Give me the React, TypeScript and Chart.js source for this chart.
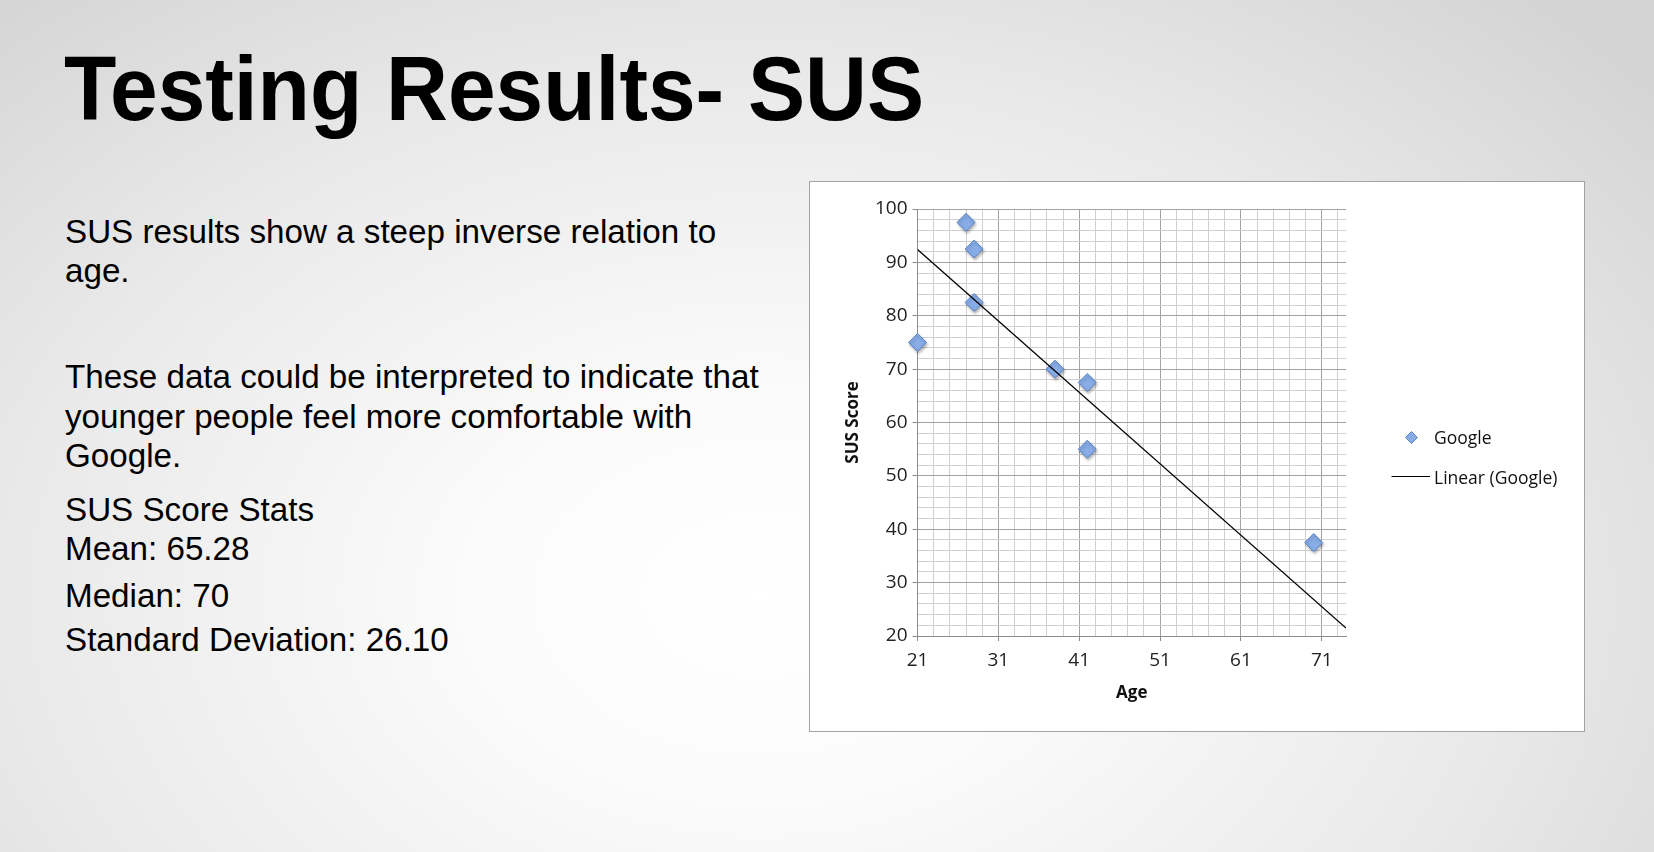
import React, { useEffect, useRef } from "react";
import { Chart, registerables } from "chart.js";

Chart.register(...registerables);

// ---- data ----
const ages = [21, 27, 28, 28, 38, 42, 42, 70];
const susScores = [75, 97.5, 92.5, 82.5, 70, 67.5, 55, 37.5];
const trendAges = [21, 74];
const trendScores = [92.4, 21.5];
const xTickLabels = [21, 31, 41, 51, 61, 71];
const yTickLabels = [20, 30, 40, 50, 60, 70, 80, 90, 100];
const xMax = 74;
const minorStep = 2;
const seriesName = "Google";
const trendName = "Linear (Google)";
const xTitle = "Age";
const yTitle = "SUS Score";

const titleText = "Testing Results- SUS";
const bodyLines = [
  { text: "SUS results show a steep inverse relation to", baseline: 243 },
  { text: "age.", baseline: 282 },
  { text: "These data could be interpreted to indicate that", baseline: 388 },
  { text: "younger people feel more comfortable with", baseline: 428 },
  { text: "Google.", baseline: 467 },
  { text: "SUS Score Stats", baseline: 521 },
  { text: "Mean: 65.28", baseline: 560 },
  { text: "Median: 70", baseline: 607 },
  { text: "Standard Deviation: 26.10", baseline: 651 },
];

const POINT_FILL = "#87ace6";
const POINT_BORDER = "#5a85c8";
const TICK_FONT = { family: "'Open Sans'", size: 19 };
const MAJOR_GRID = "#a2a2a2";
const MINOR_GRID = "#d0d0d0";

const legendPlugin = {
  id: "customLegend",
  afterDraw(chart: any) {
    const ctx = chart.ctx as CanvasRenderingContext2D;
    const ds = chart.data.datasets;
    ctx.save();
    const dx = 601.5, dy = 255.5, r = 6;
    ctx.beginPath();
    ctx.moveTo(dx, dy - r);
    ctx.lineTo(dx + r, dy);
    ctx.lineTo(dx, dy + r);
    ctx.lineTo(dx - r, dy);
    ctx.closePath();
    ctx.fillStyle = POINT_FILL;
    ctx.fill();
    ctx.lineWidth = 1;
    ctx.strokeStyle = POINT_BORDER;
    ctx.stroke();
    ctx.font = "17.5px 'Open Sans'";
    ctx.fillStyle = "#111";
    ctx.textBaseline = "middle";
    ctx.textAlign = "left";
    ctx.fillText(ds[0].label, 624, 257);
    ctx.beginPath();
    ctx.moveTo(581.5, 294.5);
    ctx.lineTo(620, 294.5);
    ctx.strokeStyle = "#000";
    ctx.lineWidth = 1.2;
    ctx.stroke();
    ctx.fillText(ds[1].label, 624, 297);
    ctx.restore();
  },
};

const shadowPlugin = {
  id: "pointShadow",
  beforeDatasetDraw(chart: any, args: any) {
    if (args.index !== 0) return;
    const ctx = chart.ctx;
    ctx.save();
    ctx.shadowColor = "rgba(0,0,0,0.3)";
    ctx.shadowBlur = 3;
    ctx.shadowOffsetX = 1;
    ctx.shadowOffsetY = 2;
  },
  afterDatasetDraw(chart: any, args: any) {
    if (args.index !== 0) return;
    chart.ctx.restore();
  },
};

function ChartBox() {
  const ref = useRef<HTMLCanvasElement | null>(null);
  useEffect(() => {
    if (!ref.current) return;
    const chart = new Chart(ref.current, {
      type: "scatter",
      data: {
        datasets: [
          {
            label: seriesName,
            data: ages.map((a, i) => ({ x: a, y: susScores[i] })),
            pointStyle: "rectRot",
            pointRadius: 9,
            pointHoverRadius: 9,
            backgroundColor: POINT_FILL,
            borderColor: POINT_BORDER,
            borderWidth: 1,
            clip: false,
            order: 1,
          },
          {
            label: trendName,
            type: "line",
            data: trendAges.map((a, i) => ({ x: a, y: trendScores[i] })),
            borderColor: "#000",
            borderWidth: 1.3,
            pointRadius: 0,
            fill: false,
            order: 0,
          } as any,
        ],
      },
      options: {
        animation: false,
        responsive: false,
        maintainAspectRatio: false,
        layout: { padding: { left: 0, top: 27, right: 238, bottom: 0 } },
        plugins: { legend: { display: false }, tooltip: { enabled: false } },
        scales: {
          x: {
            type: "linear",
            min: xTickLabels[0],
            max: xMax,
            afterBuildTicks: (scale: any) => {
              const t: any[] = [];
              for (let v = xTickLabels[0]; v < xMax; v += minorStep) t.push({ value: v });
              scale.ticks = t;
            },
            afterFit: (scale: any) => {
              scale.height = 95;
            },
            ticks: {
              autoSkip: false,
              maxRotation: 0,
              padding: 8,
              color: "#222",
              font: TICK_FONT,
              callback: (v: any) => (xTickLabels.includes(Number(v)) ? String(v) : ""),
            },
            grid: {
              color: (c: any) => (c.tick && xTickLabels.includes(c.tick.value) ? MAJOR_GRID : MINOR_GRID),
              tickColor: (c: any) => (c.tick && xTickLabels.includes(c.tick.value) ? "#8c8c8c" : "rgba(0,0,0,0)"),
              tickLength: 5,
              lineWidth: 1,
            },
            border: { color: "#8c8c8c", width: 1 },
            title: {
              display: true,
              text: xTitle,
              color: "#111",
              font: { family: "'Open Sans'", size: 17, weight: "bold" },
              padding: { top: 0, bottom: 28 },
            },
          },
          y: {
            type: "linear",
            min: yTickLabels[0],
            max: yTickLabels[yTickLabels.length - 1],
            afterBuildTicks: (scale: any) => {
              const t: any[] = [];
              const top = yTickLabels[yTickLabels.length - 1];
              for (let v = yTickLabels[0]; v <= top; v += minorStep) t.push({ value: v });
              scale.ticks = t;
            },
            afterFit: (scale: any) => {
              scale.width = 107.5;
            },
            ticks: {
              autoSkip: false,
              padding: 5,
              color: "#222",
              font: TICK_FONT,
              callback: (v: any) => (yTickLabels.includes(Number(v)) ? String(v) : ""),
            },
            grid: {
              color: (c: any) => (c.tick && yTickLabels.includes(c.tick.value) ? MAJOR_GRID : MINOR_GRID),
              tickColor: (c: any) => (c.tick && yTickLabels.includes(c.tick.value) ? "#8c8c8c" : "rgba(0,0,0,0)"),
              tickLength: 5,
              lineWidth: 1,
            },
            border: { color: "#8c8c8c", width: 1 },
            title: {
              display: true,
              text: yTitle,
              color: "#111",
              font: { family: "'Open Sans'", size: 17, weight: "bold" },
              padding: { top: 33, bottom: 0 },
            },
          },
        },
      } as any,
      plugins: [shadowPlugin, legendPlugin],
    });
    return () => chart.destroy();
  }, []);
  return (
    <div
      style={{
        position: "absolute",
        left: 809,
        top: 181,
        width: 774,
        height: 549,
        border: "1px solid #a3a3a3",
        background: "#ffffff",
      }}
    >
      <canvas ref={ref} width={774} height={549} style={{ display: "block", width: 774, height: 549 }} />
    </div>
  );
}

export default function App() {
  const bodyFs = 33.2;
  const titleFs = 90;
  return (
    <div
      style={{
        position: "absolute",
        left: 0,
        top: 0,
        width: 1654,
        height: 852,
        overflow: "hidden",
        background:
          "radial-gradient(ellipse 70% 95% at 46% 70%, #ffffff 0%, #fbfbfb 25%, #e9e9e9 65%, #d4d4d4 100%)",
        fontFamily: "'Liberation Sans', Arial, sans-serif",
        color: "#000",
      }}
    >
      <div
        style={{
          position: "absolute",
          left: 64,
          top: 120 - titleFs * 0.8465,
          fontSize: titleFs,
          lineHeight: 1,
          fontWeight: "bold",
          whiteSpace: "nowrap",
          transform: "scaleX(0.952)",
          transformOrigin: "left center",
        }}
      >
        {titleText}
      </div>
      {bodyLines.map((l, i) => (
        <div
          key={i}
          style={{
            position: "absolute",
            left: 65,
            top: l.baseline - bodyFs * 0.8465,
            fontSize: bodyFs,
            lineHeight: 1,
            whiteSpace: "nowrap",
          }}
        >
          {l.text}
        </div>
      ))}
      <ChartBox />
    </div>
  );
}
